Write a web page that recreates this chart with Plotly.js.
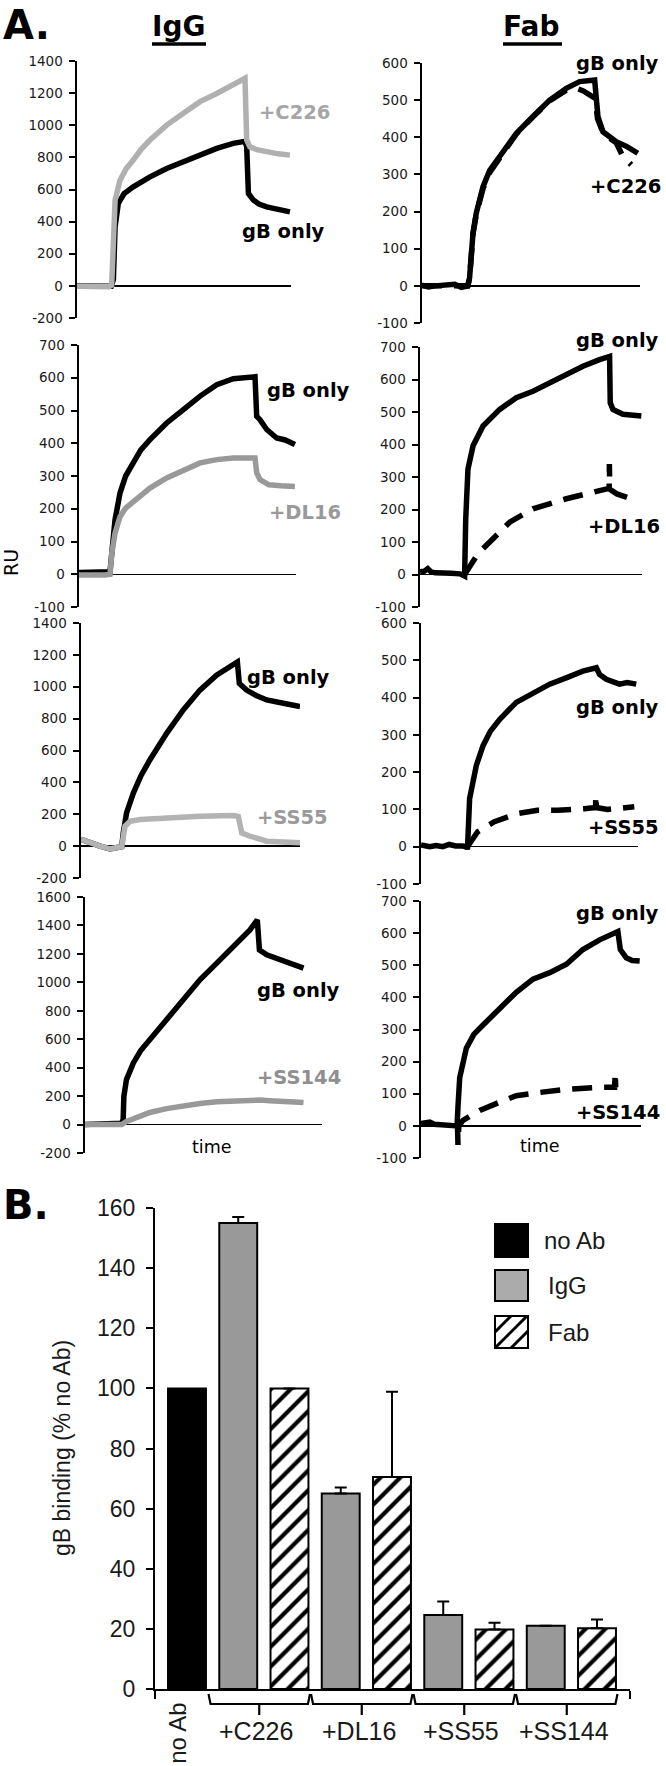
<!DOCTYPE html>
<html><head><meta charset="utf-8">
<script src="https://cdn.plot.ly/plotly-3.0.1.min.js"></script>
<style>html,body{margin:0;padding:0;background:#fff}#chart{width:666px;height:1766px}</style>
</head><body><div id="chart"></div>
<script>
// ================= DATA =================
// Panel A: SPR sensorgrams. t = time (% of plotted window), ru = response units
// Row 1: C226
const c226IgG_gB_t  = [0,5,10,16,17,17.8,19.3,22,26.3,30,34.1,41.9,49.7,57.5,65.3,73,78.5,79.3,80.1,82.4,85,88.6,94,99.5];
const c226IgG_gB_ru = [0,-2,-3,-2,40,368,513,575,617,650,679,731,773,814,856,887,900,866,575,534,510,492,475,461];
const c226IgG_ab_t  = [0,5,10,15,16.2,17,17.8,20.1,23,26.3,30,34.1,41.9,49.7,57.5,65.3,73,78.5,79.3,80.8,84,88.6,94,99.5];
const c226IgG_ab_ru = [-3,-6,-4,-5,4,300,534,658,730,783,850,908,1001,1074,1147,1198,1250,1292,908,866,848,835,822,814];
const c226Fab_gB_t  = [0,3,6,9,12,15,18,21,21.8,22.5,23.4,24.9,28,31,35.6,43.3,50.9,58.6,66.2,72.3,79.2,79.9,80.7,83,86,89.1,94,99];
const c226Fab_gB_ru = [2,-3,0,1,3,4,-4,0,20,80,142,196,267,310,348,411,456,500,532,550,554,500,456,415,400,388,375,357];
const c226Fab_ab_t  = [0,21,21.8,22.5,23.4,24.9,28,31,35.6,43.3,50.9,58.6,66.2,70.8,74,77.5,79.5,80.5,83,86,89.1,92,96];
const c226Fab_ab_ru = [0,0,20,80,140,193,262,305,345,409,455,498,527,532,525,512,505,450,413,398,385,350,326];
// Row 2: DL16
const dl16IgG_gB_t  = [0,4,8,12,14.3,15.1,16.6,18.9,21.5,25,28.5,32.7,40.4,48.1,55.8,63.5,71.1,81.1,81.9,83.4,86.5,91.1,95,99.5];
const dl16IgG_gB_ru = [5,6,8,5,8,64,166,248,300,340,380,411,462,503,544,579,597,603,482,472,442,416,410,396];
const dl16IgG_ab_t  = [0,4,8,12,14.3,15.1,16.6,18.9,21.5,25,32.7,40.4,48.1,55.8,63.5,71.1,81.1,81.9,83.4,87.5,93,99.5];
const dl16IgG_ab_ru = [-2,-3,-2,-2,0,64,125,176,202,222,263,294,319,340,350,355,355,309,289,273,270,268];
const dl16Fab_gB_t  = [0,2,3.5,5,7,10,14,18,20.1,20.6,21.6,23.9,28.4,35.9,43.4,50.9,58.4,65.9,73.4,80.9,85.4,85.7,86.9,91.4,95,99.7];
const dl16Fab_gB_ru = [8,10,18,8,5,6,4,2,-5,171,324,396,457,508,544,564,590,615,641,661,671,528,508,493,490,488];
const dl16Fab_ab_t  = [20.1,26.1,32.9,40.4,50.9,65.9,80.9,85.2,85.3,85.5,88.7,93,97.7];
const dl16Fab_ab_ru = [0,64,110,161,202,233,258,265,340,262,248,238,227];
// Row 3: SS55
const ss55IgG_gB_t  = [0,4,8.7,13.3,18.6,19.3,20.8,23.9,27.5,31.5,39.1,46.7,54.3,61.9,69.5,71.4,72.3,75.6,80,84.8,92.4,100];
const ss55IgG_gB_ru = [42,20,0,-17,-4,83,208,333,445,542,708,854,979,1073,1135,1156,1021,979,945,917,896,875];
const ss55IgG_ab_t  = [0,4,8.7,13.3,18.6,20.1,22.4,27,39.1,54.3,69.5,71.8,73.4,77.2,84.8,92,100];
const ss55IgG_ab_ru = [42,20,0,-17,-4,125,156,167,177,187,192,187,83,62,31,24,21];
const ss55Fab_gB_t  = [0,2,4,7,10,13,16,19,21.2,21.4,21.7,22.4,25.5,28.6,32,36.3,43.9,51.6,59.3,66.9,74.6,80.8,82.3,85.4,91.5,95,99.2];
const ss55Fab_gB_ru = [5,2,0,3,0,6,2,2,0,-8,58,129,218,271,310,342,387,413,436,453,471,480,462,449,436,440,436];
const ss55Fab_ab_t  = [21.4,26.1,33.8,44.5,53.7,63,75.3,80.4,80.6,80.8,86,92.2,98.3];
const ss55Fab_ab_ru = [0,40,67,89,98,98,102,105,138,105,100,102,107];
// Row 4: SS144
const ss144IgG_gB_t  = [0,5,10,15.4,16.1,16.4,17.5,20.4,23.5,27.4,34.4,41.5,48.5,55.6,62.6,69.6,72.7,73.6,76.7,83.7,92.2];
const ss144IgG_gB_ru = [0,3,5,10,35,199,316,433,520,597,737,878,1018,1135,1252,1369,1439,1228,1193,1147,1100];
const ss144IgG_ab_t  = [0,5,10,15.5,17.5,22,27.4,34.4,41.5,48.5,55.6,62.6,69.6,72.4,73.8,78,83.7,92.2];
const ss144IgG_ab_ru = [0,0,0,0,22,55,85,112,132,148,160,168,175,180,172,168,162,155];
const ss144Fab_gB_t  = [0,2,4,6,8,11,14.5,16.4,16.8,17.6,20.6,24,28.2,35.8,43.3,50.9,58.5,66.1,73.6,81.2,89.5,90.6,93.3,96,99.4];
const ss144Fab_gB_ru = [7,8,12,5,4,3,2,0,58,150,242,285,314,365,416,457,477,503,549,579,605,549,523,515,513];
const ss144Fab_ab_t  = [16.6,16.8,17.2,19.1,26.7,35.8,43.3,53.9,66.1,81.2,88,88.3,88.5];
const ss144Fab_ab_ru = [0,-59,0,17,48,74,94,104,114,120,120,166,120];

const antibodies = ["+C226", "+DL16", "+SS55", "+SS144"];
const gbLabel = "gB only";
const columnTitles = ["IgG", "Fab"];

// Panel B: gB binding (% no Ab)
const noAbLabel = "no Ab";
const noAbBinding = 100;
const iggBinding = [155, 65, 24.6, 21];
const iggError   = [2, 2, 4.5, null];
const fabBinding = [100, 70.5, 19.8, 20.2];
const fabError   = [null, 28.4, 2.2, 2.9];
const legendNames = ["no Ab", "IgG", "Fab"];

// ================= LAYOUT =================
const W = 666, H = 1766;
const px = x => x / W;
const py = y => 1 - y / H;
const FA = 'DejaVu Sans', FB = 'Liberation Sans';
const LW = 5.5, DASH = '20px,12px';

const panelsA = [
  {frame:[77,291,61,318],   range:[-200,1400], dtick:200, series:[[c226IgG_gB_t,c226IgG_gB_ru,'#000','solid'],[c226IgG_ab_t,c226IgG_ab_ru,'#b0b0b0','solid']],
   labels:[[antibodies[0],257,113,'#a6a6a6'],[gbLabel,240,231,'#000']]},
  {frame:[422,640,63,323],  range:[-100,600],  dtick:100, series:[[c226Fab_ab_t,c226Fab_ab_ru,'#000',DASH],[c226Fab_gB_t,c226Fab_gB_ru,'#000','solid']],
   labels:[[gbLabel,574,64,'#000'],[antibodies[0],588,186,'#000']]},
  {frame:[79,296,345,607],  range:[-100,700],  dtick:100, series:[[dl16IgG_gB_t,dl16IgG_gB_ru,'#000','solid'],[dl16IgG_ab_t,dl16IgG_ab_ru,'#999','solid']],
   labels:[[gbLabel,265,390,'#000'],[antibodies[1],267,512,'#999']]},
  {frame:[420,642,347,607], range:[-100,700],  dtick:100, series:[[dl16Fab_ab_t,dl16Fab_ab_ru,'#000',DASH],[dl16Fab_gB_t,dl16Fab_gB_ru,'#000','solid']],
   labels:[[gbLabel,574,341,'#000'],[antibodies[1],586,527,'#000']]},
  {frame:[81,300,623,878],  range:[-200,1400], dtick:200, series:[[ss55IgG_gB_t,ss55IgG_gB_ru,'#000','solid'],[ss55IgG_ab_t,ss55IgG_ab_ru,'#b3b3b3','solid']],
   labels:[[gbLabel,245,677,'#000'],[antibodies[2],255,818,'#9a9a9a']]},
  {frame:[421,638,623,884], range:[-100,600],  dtick:100, series:[[ss55Fab_ab_t,ss55Fab_ab_ru,'#000',DASH],[ss55Fab_gB_t,ss55Fab_gB_ru,'#000','solid']],
   labels:[[gbLabel,574,707,'#000'],[antibodies[2],586,827,'#000']]},
  {frame:[85,322,897,1153], range:[-200,1600], dtick:200, series:[[ss144IgG_gB_t,ss144IgG_gB_ru,'#000','solid'],[ss144IgG_ab_t,ss144IgG_ab_ru,'#999','solid']],
   labels:[[gbLabel,255,990,'#000'],[antibodies[3],255,1077,'#8f8f8f']]},
  {frame:[421,641,901,1158],range:[-100,700],  dtick:100, series:[[ss144Fab_ab_t,ss144Fab_ab_ru,'#000',DASH],[ss144Fab_gB_t,ss144Fab_gB_ru,'#000','solid']],
   labels:[[gbLabel,574,913,'#000'],[antibodies[3],574,1112,'#000']]}
];

const traces = [];
const layout = {
  width: W, height: H, margin:{l:0,r:0,t:0,b:0},
  paper_bgcolor:'#fff', plot_bgcolor:'rgba(0,0,0,0)',
  showlegend:false, barmode:'overlay',
  annotations:[], shapes:[]
};
const ann = (text, x, y, o) => layout.annotations.push(Object.assign({text, x, y, xref:'paper', yref:'paper', showarrow:false}, o));

panelsA.forEach((p, i) => {
  const n = i + 1, s = n === 1 ? '' : String(n);
  const xa = 'x' + s, ya = 'y' + s;
  p.series.forEach(se => traces.push({
    type:'scatter', mode:'lines', x:se[0], y:se[1], xaxis:xa, yaxis:ya,
    line:{color:se[2], width:LW, dash:se[3]}, hoverinfo:'skip'
  }));
  const tv = [];
  for (let v = p.range[0]; v <= p.range[1]; v += p.dtick) tv.push(v);
  layout['xaxis' + s] = {domain:[px(p.frame[0]), px(p.frame[1])], range:[0,100], visible:false, anchor:ya, fixedrange:true};
  layout['yaxis' + s] = {
    domain:[py(p.frame[3]), py(p.frame[2])], range:p.range, anchor:xa,
    tickmode:'array', tickvals:tv, ticktext:tv.map(String),
    ticks:'outside', ticklen:6, tickwidth:2, tickcolor:'#000',
    showline:true, linewidth:2.5, linecolor:'#000', showgrid:false,
    zeroline:true, zerolinecolor:'#000', zerolinewidth:1.5,
    tickfont:{family:FA, size:13.5, color:'#1a1a1a'}, ticklabelstandoff:3, fixedrange:true
  };
  p.labels.forEach(l => ann(l[0], px(l[1]), py(l[2]), {xanchor:'left', yanchor:'middle',
    font:{family:FA, size:19.5, weight:'bold', color:l[3]}}));
});

// Panel A decorations
ann('A.', px(1), py(25), {xanchor:'left', yanchor:'middle', font:{family:FA, size:40, weight:'bold', color:'#000'}});
ann(columnTitles[0], px(178), py(27), {xanchor:'center', yanchor:'middle', font:{family:FA, size:28, weight:'bold', color:'#000'}});
ann(columnTitles[1], px(531), py(27), {xanchor:'center', yanchor:'middle', font:{family:FA, size:28, weight:'bold', color:'#000'}});
layout.shapes.push({type:'line', xref:'paper', yref:'paper', x0:px(152), x1:px(206), y0:py(44), y1:py(44), line:{color:'#000', width:3.3}});
layout.shapes.push({type:'line', xref:'paper', yref:'paper', x0:px(503), x1:px(562), y0:py(44), y1:py(44), line:{color:'#000', width:3.3}});
ann('RU', px(11), py(563), {xanchor:'center', yanchor:'middle', textangle:-90, font:{family:FA, size:19, color:'#000'}});
ann('time', px(212), py(1147), {xanchor:'center', yanchor:'middle', font:{family:FA, size:17.5, color:'#000'}});
ann('time', px(540), py(1146), {xanchor:'center', yanchor:'middle', font:{family:FA, size:17.5, color:'#000'}});

// ================= Panel B =================
const iggX = antibodies.map((a, i) => 1 + 2 * i);
const fabX = antibodies.map((a, i) => 2 + 2 * i);
const barLine = {color:'#000', width:2};
traces.push({type:'bar', x:[0], y:[noAbBinding], xaxis:'x9', yaxis:'y9', width:0.74,
  marker:{color:'#000', line:barLine}, name:legendNames[0], hoverinfo:'skip'});
traces.push({type:'bar', x:iggX, y:iggBinding, xaxis:'x9', yaxis:'y9', width:0.74,
  marker:{color:'#999999', line:barLine}, name:legendNames[1], hoverinfo:'skip',
  error_y:{type:'data', symmetric:false, array:iggError, arrayminus:iggError.map(()=>0), color:'#000', thickness:2, width:6}});
traces.push({type:'bar', x:fabX, y:fabBinding, xaxis:'x9', yaxis:'y9', width:0.74,
  marker:{color:'#fff', line:barLine, pattern:{shape:'/', fgcolor:'#000', bgcolor:'#fff', size:14, solidity:0.3}},
  name:legendNames[2], hoverinfo:'skip',
  error_y:{type:'data', symmetric:false, array:fabError, arrayminus:fabError.map(()=>0), color:'#000', thickness:2, width:6}});

layout.xaxis9 = {domain:[px(155), px(630)], range:[-0.624, 8.644], anchor:'y9',
  showline:true, linewidth:2, linecolor:'#000', showgrid:false, zeroline:false,
  tickmode:'array', tickvals:[-0.615, 8.635], ticktext:['',''], ticks:'outside', ticklen:8, tickwidth:2, tickcolor:'#000', fixedrange:true};
const tvB = []; for (let v = 0; v <= 160; v += 20) tvB.push(v);
layout.yaxis9 = {domain:[py(1689), py(1208)], range:[0,160], anchor:'x9',
  tickmode:'array', tickvals:tvB, ticktext:tvB.map(String),
  ticks:'outside', ticklen:7, tickwidth:2, tickcolor:'#000',
  showline:true, linewidth:2, linecolor:'#000', showgrid:false, zeroline:false,
  tickfont:{family:FB, size:23, color:'#1a1a1a'}, ticklabelstandoff:6, fixedrange:true};

ann('B.', px(1), py(1205), {xanchor:'left', yanchor:'middle', font:{family:FA, size:40, weight:'bold', color:'#000'}});
ann('gB binding (% no Ab)', px(62), py(1448), {xanchor:'center', yanchor:'middle', textangle:-90, font:{family:FB, size:23, color:'#1a1a1a'}});

// group brackets & labels
antibodies.forEach((a, i) => {
  const x0 = 2*i + 0.42, x1 = 2*i + 2.4, xc = 2*i + 1.41;
  layout.shapes.push({type:'path', xref:'x9', yref:'paper',
    path:`M${x0},${py(1694)} L${x0+0.04},${py(1704)} L${x1-0.04},${py(1704)} L${x1},${py(1694)}`,
    line:{color:'#000', width:2.2}});
  layout.shapes.push({type:'line', xref:'x9', yref:'paper', x0:xc, x1:xc, y0:py(1704), y1:py(1715), line:{color:'#000', width:2.2}});
  layout.annotations.push({text:a, x:2*i + 1.35, y:py(1731), xref:'x9', yref:'paper', showarrow:false,
    xanchor:'center', yanchor:'middle', font:{family:FB, size:25, color:'#1a1a1a'}});
});
layout.annotations.push({text:noAbLabel, x:-0.2, y:py(1733), xref:'x9', yref:'paper', showarrow:false,
  textangle:-90, xanchor:'center', yanchor:'middle', font:{family:FB, size:24, color:'#1a1a1a'}});

// legend (manual, large swatches)
const legBoxes = [[1224,1257,'#000'],[1270,1301,'#ababab'],[1316,1348,'#fff']];
legBoxes.forEach((b, i) => {
  layout.shapes.push({type:'rect', xref:'paper', yref:'paper', x0:px(495), x1:px(528), y0:py(b[1]), y1:py(b[0]),
    fillcolor:b[2], line:{color:'#000', width:2}});
  ann(legendNames[i], px(i === 0 ? 542 : 546), py((b[0]+b[1])/2), {xanchor:'left', yanchor:'middle', font:{family:FB, size:24, color:'#1a1a1a'}});
});
[[495,1332,511,1316],[495,1348,527,1316],[511,1348,528,1331]].forEach(l =>
  layout.shapes.push({type:'line', xref:'paper', yref:'paper', x0:px(l[0]), y0:py(l[1]), x1:px(l[2]), y1:py(l[3]), line:{color:'#000', width:3}}));

Plotly.newPlot('chart', traces, layout, {staticPlot:true, displayModeBar:false});
</script></body></html>
